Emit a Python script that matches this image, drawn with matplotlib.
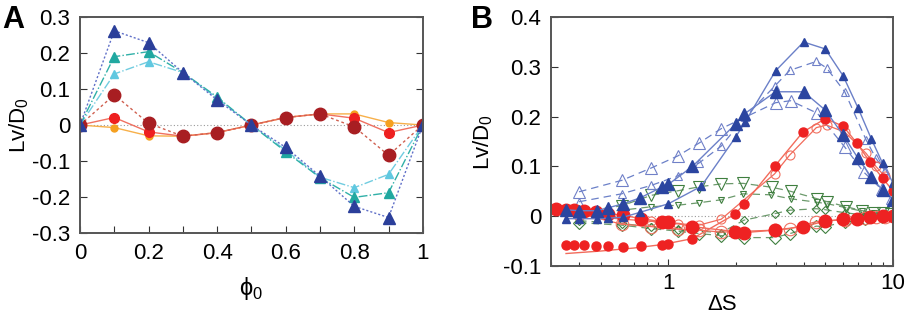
import numpy as np
import matplotlib.pyplot as plt
from matplotlib.ticker import FixedLocator, FixedFormatter, LogLocator, NullFormatter

plt.rcParams['font.family'] = ['Liberation Sans', 'DejaVu Sans']
plt.rcParams['mathtext.fontset'] = 'custom'
plt.rcParams['mathtext.rm'] = 'Liberation Sans'

# ---- panel A data ----
phi0 = [0, 0.1, 0.2, 0.3, 0.4, 0.5, 0.6, 0.7, 0.8, 0.9, 1.0]
a_blue = [0, 0.262, 0.229, 0.146, 0.070, 0, -0.062, -0.142, -0.226, -0.257, 0]
a_teal = [0, 0.190, 0.204, 0.146, 0.078, 0, -0.074, -0.146, -0.201, -0.188, 0]
a_cyan = [0, 0.142, 0.176, 0.146, 0.075, 0, -0.070, -0.145, -0.174, -0.137, 0]
a_darkred = [0, 0.084, 0.005, -0.031, -0.021, 0, 0.021, 0.031, -0.005, -0.084, 0]
a_red = [0, 0.021, -0.019, -0.031, -0.021, 0, 0.021, 0.031, 0.019, -0.021, 0]
a_orange = [0, -0.007, -0.030, -0.031, -0.021, 0, 0.021, 0.031, 0.031, 0.007, 0]

# ---- panel B data ----
bs_fill_x = [0.35, 0.4, 0.48, 0.54, 0.63, 0.75, 1.0, 1.4, 2.0, 2.2, 3.0, 4.0, 5.0, 6.0, 7.0, 8.0, 9.0, 10.0]
bs_fill_y = [-0.005, -0.005, -0.005, -0.004, -0.002, 0.008, 0.025, 0.060, 0.160, 0.190, 0.292, 0.350, 0.336, 0.282, 0.217, 0.156, 0.106, 0.067]
bl_fill_x = [0.35, 0.4, 0.48, 0.54, 0.63, 0.75, 0.94, 1.0, 1.28, 2.0, 2.17, 3.0, 4.0, 5.0, 6.0, 7.0, 8.0, 9.0, 10.0]
bl_fill_y = [0.013, 0.011, 0.011, 0.017, 0.025, 0.037, 0.059, 0.064, 0.100, 0.186, 0.205, 0.250, 0.250, 0.213, 0.163, 0.116, 0.079, 0.052, 0.033]
bl_open_x = [0.4, 0.62, 0.84, 1.1, 1.37, 1.72, 3.0, 3.5, 4.6, 6.1, 7.4, 8.9, 9.9]
bl_open_y = [0.049, 0.072, 0.097, 0.121, 0.147, 0.176, 0.228, 0.232, 0.207, 0.139, 0.089, 0.054, 0.036]
bs_open_x = [0.4, 0.62, 0.84, 1.1, 1.37, 1.72, 2.2, 2.97, 3.47, 4.56, 5.06, 6.1, 7.6, 8.4, 9.2]
bs_open_y = [0.029, 0.045, 0.062, 0.081, 0.107, 0.141, 0.200, 0.261, 0.293, 0.311, 0.298, 0.250, 0.153, 0.116, 0.092]
gl_down_x = [0.4, 0.62, 0.84, 1.1, 1.37, 1.72, 2.15, 2.9, 3.5, 4.6, 5.1, 6.2, 7.3, 8.2, 9.0, 9.8]
gl_down_y = [0.008, 0.021, 0.042, 0.051, 0.059, 0.065, 0.066, 0.058, 0.050, 0.035, 0.029, 0.019, 0.011, 0.007, 0.006, 0.004]
gs_down_x = [0.4, 0.62, 0.84, 1.1, 1.37, 1.72, 2.15, 2.85, 3.5, 4.6, 5.1, 6.2, 7.3, 8.2, 9.0, 9.8]
gs_down_y = [0.005, 0.012, 0.019, 0.022, 0.027, 0.033, 0.045, 0.043, 0.035, 0.028, 0.025, 0.017, 0.010, 0.006, 0.004, 0.002]
gl_diam_x = [0.4, 0.62, 0.84, 1.1, 1.37, 1.72, 2.17, 2.97, 3.47, 4.56, 5.0, 6.1, 7.5, 8.9, 10.0]
gl_diam_y = [-0.013, -0.018, -0.025, -0.030, -0.035, -0.039, -0.043, -0.043, -0.035, -0.020, -0.021, -0.011, -0.005, -0.001, 0.0]
gs_diam_x = [0.4, 0.62, 0.84, 1.1, 1.72, 2.17, 2.97, 3.47, 4.56, 5.0, 6.1, 7.5, 8.9, 10.0]
gs_diam_y = [-0.009, -0.015, -0.021, -0.027, -0.033, -0.008, 0.005, 0.012, 0.015, 0.013, 0.007, 0.002, 0.001, 0.0]
rl_fill_x = [0.315, 0.35, 0.38, 0.42, 0.476, 0.54, 0.625, 0.755, 0.94, 1.0, 1.28, 1.98, 2.17, 2.97, 3.97, 5.0, 6.0, 6.9, 7.9, 9.0, 10.0]
rl_fill_y = [0.014, 0.013, 0.012, 0.011, 0.009, 0.005, 0.002, -0.005, -0.011, -0.011, -0.021, -0.031, -0.033, -0.028, -0.021, -0.010, -0.006, -0.005, -0.001, 0.0, 0.0]
rs_fill_x = [0.35, 0.38, 0.42, 0.476, 0.54, 0.625, 0.755, 0.94, 1.0, 1.28, 1.98, 2.17, 2.97, 3.97, 5.0, 6.0, 6.9, 7.9, 9.0, 10.0]
rs_fill_y = [-0.057, -0.057, -0.058, -0.060, -0.060, -0.062, -0.060, -0.057, -0.056, -0.045, 0.004, 0.024, 0.100, 0.169, 0.196, 0.181, 0.147, 0.109, 0.076, 0.051]
rs_line_x = [0.35, 0.5, 0.7, 0.94, 1.28, 1.98, 2.17, 2.97, 3.97, 5.0, 6.0, 6.9, 7.9, 9.0, 10.0]
rs_line_y = [-0.075, -0.070, -0.064, -0.057, -0.045, 0.004, 0.024, 0.100, 0.169, 0.196, 0.181, 0.147, 0.109, 0.076, 0.051]
rs_open_x = [0.4, 0.62, 0.84, 1.1, 1.37, 1.72, 2.97, 3.47, 4.56, 5.06, 6.1, 7.6, 8.4, 9.2]
rs_open_y = [0.003, -0.006, -0.010, -0.015, -0.018, -0.006, 0.085, 0.123, 0.178, 0.183, 0.169, 0.126, 0.100, 0.080]
rl_open_x = [0.4, 0.62, 0.84, 1.1, 1.37, 1.72, 2.97, 3.47, 4.56, 6.1, 7.5, 8.4, 9.2]
rl_open_y = [0.005, -0.016, -0.021, -0.026, -0.028, -0.032, -0.028, -0.025, -0.011, -0.007, -0.003, -0.002, -0.001]

BLUE = '#2b45a0'
BLUE_LN = '#6b80c8'
GREEN = '#3f7f3f'
GREEN_LN = '#6c9a6c'
RED = '#ee2222'
RED_LN = '#f26b5b'
SPINE = '#555555'
FS = 16

fig = plt.figure(figsize=(9.07, 3.17), dpi=100)
axA = fig.add_axes([0.0882, 0.265, 0.378, 0.681])
axB = fig.add_axes([0.6075, 0.161, 0.377, 0.785])

# ---- panel A ----
axA.axhline(0, color='#999999', lw=0.8, ls=(0, (1, 2)), zorder=1)
axA.plot(phi0, a_orange, color='#f7b04a', lw=1.0, marker='o', ms=5, mfc='#f5a020', mec='#f5a020')
axA.plot(phi0, a_red, color='#f07060', lw=1.0, marker='o', ms=7, mfc='#ee2020', mec='#ee2020')
axA.plot(phi0, a_darkred, color='#d06050', lw=1.0, ls=(0, (2, 2)), marker='o', ms=9, mfc='#a81e22', mec='#a81e22')
axA.plot(phi0, a_cyan, color='#70cce0', lw=1.0, ls='-.', marker='^', ms=5.5, mfc='#60c8e0', mec='#60c8e0')
axA.plot(phi0, a_teal, color='#30b0a8', lw=1.0, ls='-.', marker='^', ms=6.5, mfc='#20a8a0', mec='#20a8a0')
axA.plot(phi0, a_blue, color='#6070c8', lw=1.0, ls=(0, (1.5, 1.5)), marker='^', ms=8, mfc='#2b3f9a', mec='#2b3f9a')
axA.set_xlim(0, 1)
axA.set_ylim(-0.3, 0.3)
axA.set_xticks([0, 0.1, 0.2, 0.3, 0.4, 0.5, 0.6, 0.7, 0.8, 0.9, 1.0])
axA.set_xticklabels(['0', '', '0.2', '', '0.4', '', '0.6', '', '0.8', '', '1'])
axA.set_yticks([-0.3, -0.2, -0.1, 0, 0.1, 0.2, 0.3])
axA.set_yticklabels(['-0.3', '-0.2', '-0.1', '0', '0.1', '0.2', '0.3'])
axA.set_xlabel('ϕ$_\\mathregular{0}$', fontsize=17, labelpad=8)
axA.set_ylabel('Lv/D$_\\mathregular{0}$', fontsize=FS, labelpad=1)
fig.text(0.002, 0.985, 'A', fontsize=22, fontweight='bold', va='top', ha='left')

# ---- panel B ----
axB.axhline(0, color='#999999', lw=0.8, ls=(0, (1, 2)), zorder=1)
dash = (0, (6, 4))
axB.plot(gs_diam_x, gs_diam_y, color=GREEN_LN, lw=0.9, ls=dash, marker='D', ms=4, mfc='none', mec=GREEN, mew=0.8)
axB.plot(gl_diam_x, gl_diam_y, color=GREEN_LN, lw=0.9, ls=dash, marker='D', ms=6.5, mfc='none', mec=GREEN, mew=0.8)
axB.plot(gs_down_x, gs_down_y, color=GREEN_LN, lw=0.9, ls=dash, marker='v', ms=5, mfc='none', mec=GREEN, mew=0.8)
axB.plot(gl_down_x, gl_down_y, color=GREEN_LN, lw=0.9, ls=dash, marker='v', ms=8, mfc='none', mec=GREEN, mew=0.8)
axB.plot(bs_open_x, bs_open_y, color=BLUE_LN, lw=0.9, ls=dash, marker='^', ms=6, mfc='none', mec='#7080c8', mew=0.8)
axB.plot(bl_open_x, bl_open_y, color=BLUE_LN, lw=0.9, ls=dash, marker='^', ms=9, mfc='none', mec='#7080c8', mew=0.8)
axB.plot(rl_open_x, rl_open_y, color=RED_LN, lw=0.9, marker='o', ms=9, mfc='none', mec='#f07060', mew=0.8)
axB.plot(rs_open_x, rs_open_y, color=RED_LN, lw=0.9, marker='o', ms=6.5, mfc='none', mec='#f07060', mew=0.8)
axB.plot(rs_line_x, rs_line_y, color=RED_LN, lw=1.0)
axB.plot(rs_fill_x, rs_fill_y, ls='none', marker='o', ms=6.5, mfc=RED, mec=RED)
axB.plot(rl_fill_x, rl_fill_y, color=RED_LN, lw=1.0, marker='o', ms=9, mfc=RED, mec=RED)
axB.plot(bs_fill_x, bs_fill_y, color=BLUE_LN, lw=1.0, marker='^', ms=6, mfc=BLUE, mec=BLUE)
axB.plot(bl_fill_x, bl_fill_y, color=BLUE_LN, lw=1.0, marker='^', ms=9, mfc=BLUE, mec=BLUE)
axB.set_xscale('log')
axB.set_xlim(0.3, 10)
axB.set_ylim(-0.1, 0.4)
axB.xaxis.set_major_locator(FixedLocator([1, 10]))
axB.xaxis.set_major_formatter(FixedFormatter(['1', '10']))
axB.xaxis.set_minor_locator(LogLocator(base=10, subs=np.arange(2, 10)))
axB.xaxis.set_minor_formatter(NullFormatter())
axB.set_yticks([-0.1, 0, 0.1, 0.2, 0.3, 0.4])
axB.set_yticklabels(['-0.1', '0', '0.1', '0.2', '0.3', '0.4'])
axB.set_xlabel('ΔS', fontsize=FS, labelpad=0)
axB.set_ylabel('Lv/D$_\\mathregular{0}$', fontsize=FS, labelpad=6)
fig.text(0.519, 0.985, 'B', fontsize=22, fontweight='bold', va='top', ha='left')

for ax in (axA, axB):
    for s in ax.spines.values():
        s.set_color(SPINE)
        s.set_linewidth(1.4)
    ax.tick_params(which='both', direction='in', right=True, top=False, labelsize=FS, color='#333333')
    ax.tick_params(which='major', length=5, width=0.8, pad=7)
    ax.tick_params(which='minor', length=3, width=0.8)
axB.tick_params(axis='x', which='major', pad=5)

fig.savefig('out.png', dpi=100)
